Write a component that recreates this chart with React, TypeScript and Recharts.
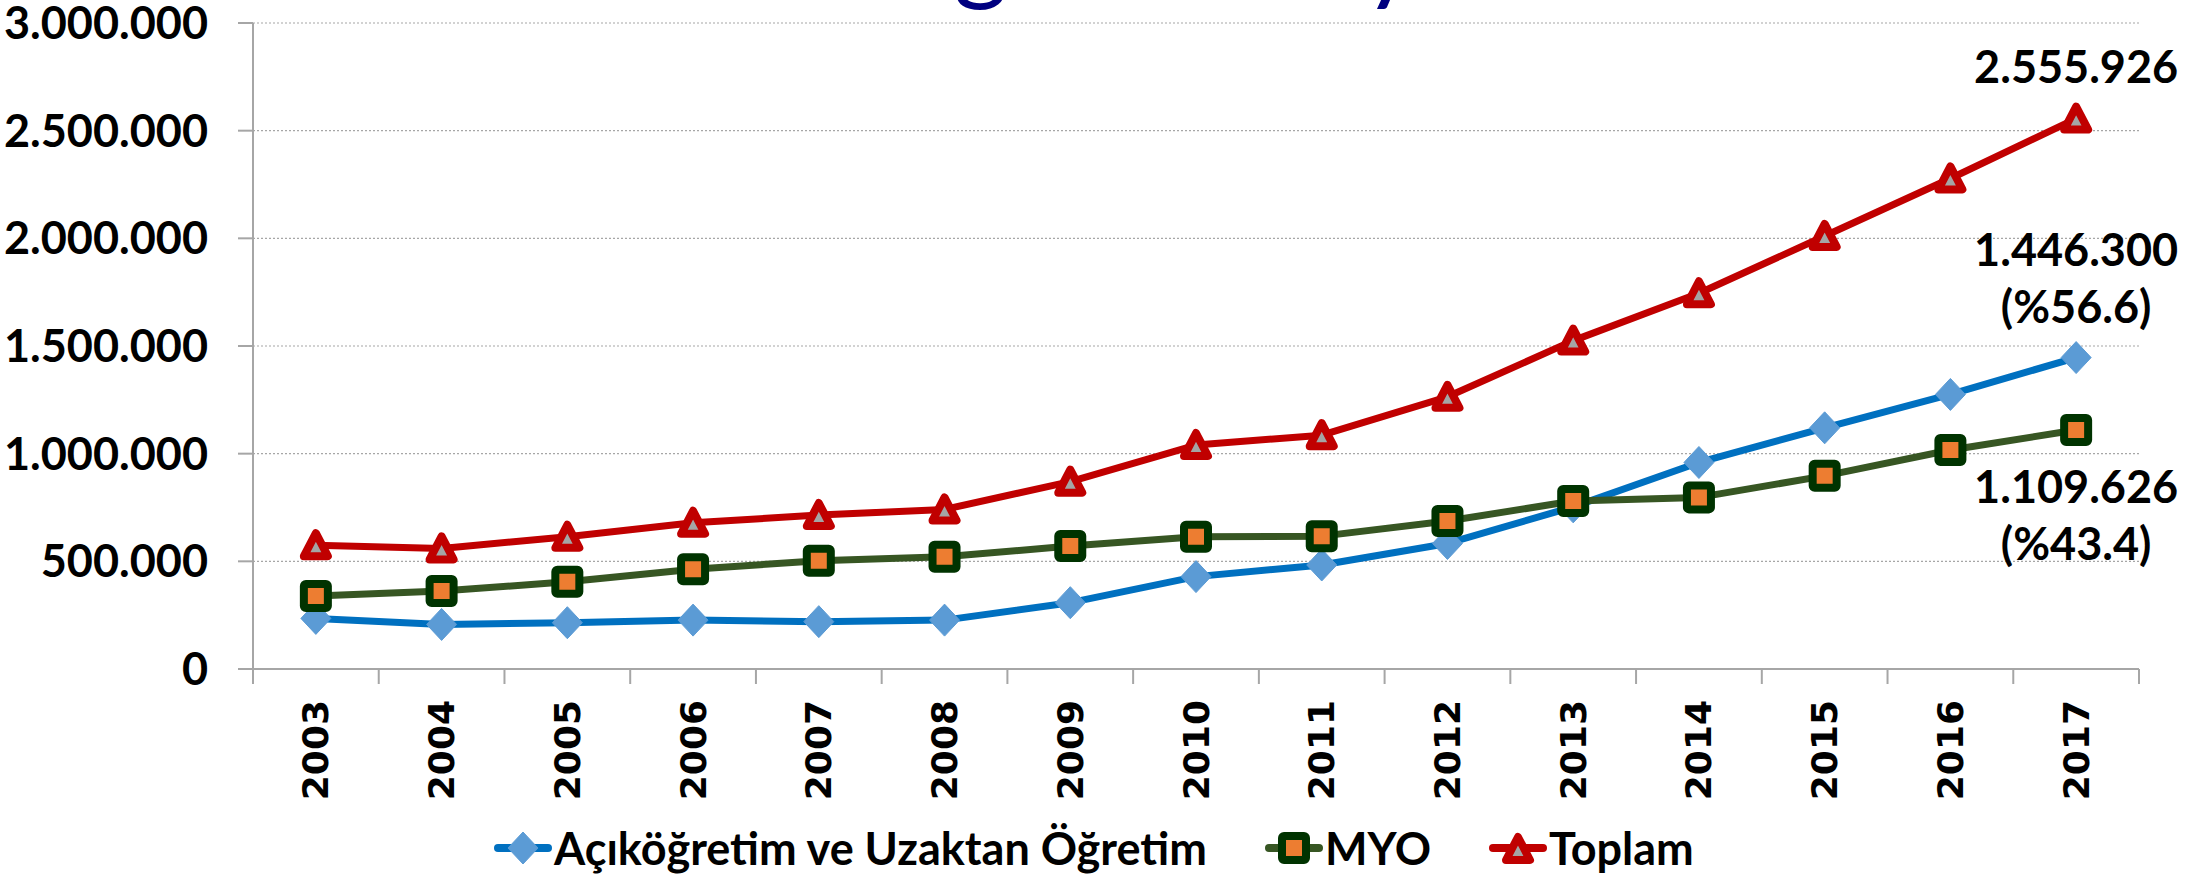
import React from 'react';
import { LineChart, Line, XAxis, YAxis, CartesianGrid, Legend, LabelList } from 'recharts';

const years = ['2003', '2004', '2005', '2006', '2007', '2008', '2009', '2010', '2011', '2012', '2013', '2014', '2015', '2016', '2017'];
const acikValues = [235000, 207000, 215000, 227000, 220000, 227000, 308000, 429000, 483000, 583000, 753000, 959000, 1120000, 1275000, 1446300];
const myoValues = [339000, 362000, 405000, 463000, 503000, 521000, 571000, 614000, 617000, 687000, 780000, 797000, 897000, 1017000, 1109626];
const toplamValues = [575000, 560000, 614000, 679000, 715000, 741000, 870000, 1040000, 1086000, 1264000, 1525000, 1745000, 2011000, 2278000, 2555926];
const yTicks = [0, 500000, 1000000, 1500000, 2000000, 2500000, 3000000];
const seriesNames = ['Açıköğretim ve Uzaktan Öğretim', 'MYO', 'Toplam'];
const acikEndLabel = ['1.446.300', '(%56.6)'];
const myoEndLabel = ['1.109.626', '(%43.4)'];
const toplamEndLabel = ['2.555.926'];
const titleText = 'Ön Lisans Öğrenci Sayıları';

const data = years.map((year, i) => ({
  x: i + 0.5,
  year,
  acik: acikValues[i],
  myo: myoValues[i],
  toplam: toplamValues[i],
}));
const xTicks = Array.from({ length: 31 }, (_, k) => k / 2);

const FONT = 'Lato, "Open Sans", sans-serif';
const TEXT_SIZE = 45;
const AXIS = '#A6A6A6';
const BLUE_LINE = '#0070C0';
const BLUE_MARK = '#5B9BD5';
const GREEN_LINE = '#375623';
const GREEN_DARK = '#003300';
const ORANGE = '#ED7D31';
const RED = '#C00000';
const GRAY = '#A5A5A5';

const fmt = (n: number) => String(n).replace(/\B(?=(\d{3})+(?!\d))/g, '.');

const diamond = (cx: number, cy: number, key?: any) => (
  <polygon key={key} points={`${cx},${cy - 16} ${cx + 15},${cy} ${cx},${cy + 16} ${cx - 15},${cy}`} fill={BLUE_MARK} stroke={BLUE_MARK} strokeWidth={1} strokeLinejoin="round" />
);
const square = (cx: number, cy: number, key?: any) => (
  <rect key={key} x={cx - 12} y={cy - 12} width={24} height={24} rx={2} fill={ORANGE} stroke={GREEN_DARK} strokeWidth={8} strokeLinejoin="round" />
);
const triangle = (cx: number, cy: number, key?: any) => (
  <polygon key={key} points={`${cx},${cy - 12} ${cx + 12},${cy + 11} ${cx - 12},${cy + 11}`} fill={GRAY} stroke={RED} strokeWidth={8} strokeLinejoin="round" />
);

const DiamondDot = (p: any) => (p.cx == null ? null : diamond(p.cx, p.cy, p.key ?? p.index));
const SquareDot = (p: any) => (p.cx == null ? null : square(p.cx, p.cy, p.key ?? p.index));
const TriangleDot = (p: any) => (p.cx == null ? null : triangle(p.cx, p.cy, p.key ?? p.index));

const XTick = (props: any) => {
  const { x, y, payload } = props;
  const v = payload.value as number;
  if (Number.isInteger(v)) {
    return <line x1={x} y1={y} x2={x} y2={y + 15} stroke={AXIS} strokeWidth={2} />;
  }
  const idx = Math.floor(v);
  const ly = y + 31;
  return (
    <text
      x={x}
      y={ly}
      transform={`rotate(-90, ${x}, ${ly})`}
      textAnchor="end"
      dominantBaseline="central"
      fontFamily='"DejaVu Sans", sans-serif'
      fontWeight={700}
      fontSize={36}
      fill="#000"
    >
      {years[idx]}
    </text>
  );
};

const endLabel = (lines: string[], offsets: number[]) => (p: any) => {
  if (p.index !== years.length - 1) return null;
  return (
    <g>
      {lines.map((t, i) => (
        <text key={i} x={p.x} y={p.y + offsets[i]} textAnchor="middle" dominantBaseline="central" fontFamily={FONT} fontWeight={700} fontSize={TEXT_SIZE} fill="#000">
          {t}
        </text>
      ))}
    </g>
  );
};

const legendIcon = (kind: number, color: string) => (
  <svg width={58} height={40} style={{ display: 'block' }}>
    <line x1={4} y1={20} x2={54} y2={20} stroke={color} strokeWidth={8} strokeLinecap="round" />
    {kind === 0 ? diamond(29, 20) : kind === 1 ? square(29, 20) : triangle(29, 21)}
  </svg>
);

const LegendContent = () => {
  const items = [
    { name: seriesNames[0], color: BLUE_LINE, kind: 0 },
    { name: seriesNames[1], color: GREEN_LINE, kind: 1 },
    { name: seriesNames[2], color: RED, kind: 2 },
  ];
  return (
    <div style={{ display: 'flex', alignItems: 'center', height: 40 }}>
      {items.map((it, i) => (
        <div key={i} style={{ display: 'flex', alignItems: 'center', marginLeft: i === 0 ? 0 : 58 }}>
          {legendIcon(it.kind, it.color)}
          <span style={{ fontFamily: FONT, fontWeight: 700, fontSize: TEXT_SIZE, lineHeight: '40px', color: '#000', marginLeft: 2, whiteSpace: 'nowrap' }}>
            {it.name}
          </span>
        </div>
      ))}
    </div>
  );
};

export default function App() {
  return (
    <div style={{ position: 'absolute', left: 0, top: 0, width: 2208, height: 874, background: '#fff', overflow: 'hidden' }}>
      <LineChart width={2208} height={874} data={data} margin={{ top: 23, right: 69, left: 0, bottom: 0 }}>
        <CartesianGrid vertical={false} stroke={AXIS} strokeDasharray="2 2" strokeWidth={1.2} />
        <XAxis
          dataKey="x"
          type="number"
          domain={[0, 15]}
          ticks={xTicks}
          interval={0}
          height={205}
          tickSize={0}
          tickMargin={0}
          tickLine={false}
          axisLine={{ stroke: AXIS, strokeWidth: 2 }}
          tick={<XTick />}
        />
        <YAxis
          domain={[0, 3000000]}
          ticks={yTicks}
          interval={0}
          width={253}
          tickSize={15}
          tickMargin={30}
          tickLine={{ stroke: AXIS, strokeWidth: 2 }}
          axisLine={{ stroke: AXIS, strokeWidth: 2 }}
          tickFormatter={fmt}
          tick={{ fill: '#000', fontSize: TEXT_SIZE, fontWeight: 700, fontFamily: FONT }}
        />
        <Legend
          verticalAlign="middle"
          align="center"
          layout="horizontal"
          wrapperStyle={{ left: 494, top: 828, width: 1500 }}
          content={() => <LegendContent />}
        />
        <Line type="linear" dataKey="acik" name={seriesNames[0]} stroke={BLUE_LINE} strokeWidth={7} strokeLinejoin="round" dot={DiamondDot} activeDot={false} isAnimationActive={false}>
          <LabelList dataKey="acik" content={endLabel(acikEndLabel, [-109, -52])} />
        </Line>
        <Line type="linear" dataKey="myo" name={seriesNames[1]} stroke={GREEN_LINE} strokeWidth={7} strokeLinejoin="round" dot={SquareDot} activeDot={false} isAnimationActive={false}>
          <LabelList dataKey="myo" content={endLabel(myoEndLabel, [56, 113])} />
        </Line>
        <Line type="linear" dataKey="toplam" name={seriesNames[2]} stroke={RED} strokeWidth={7} strokeLinejoin="round" dot={TriangleDot} activeDot={false} isAnimationActive={false}>
          <LabelList dataKey="toplam" content={endLabel(toplamEndLabel, [-53])} />
        </Line>
      </LineChart>
      <svg width={2208} height={40} style={{ position: 'absolute', left: 0, top: 0, pointerEvents: 'none' }}>
        <text x={400} y={-9} fontFamily={FONT} fontSize={104} fill="#000080">{titleText}</text>
      </svg>
    </div>
  );
}
